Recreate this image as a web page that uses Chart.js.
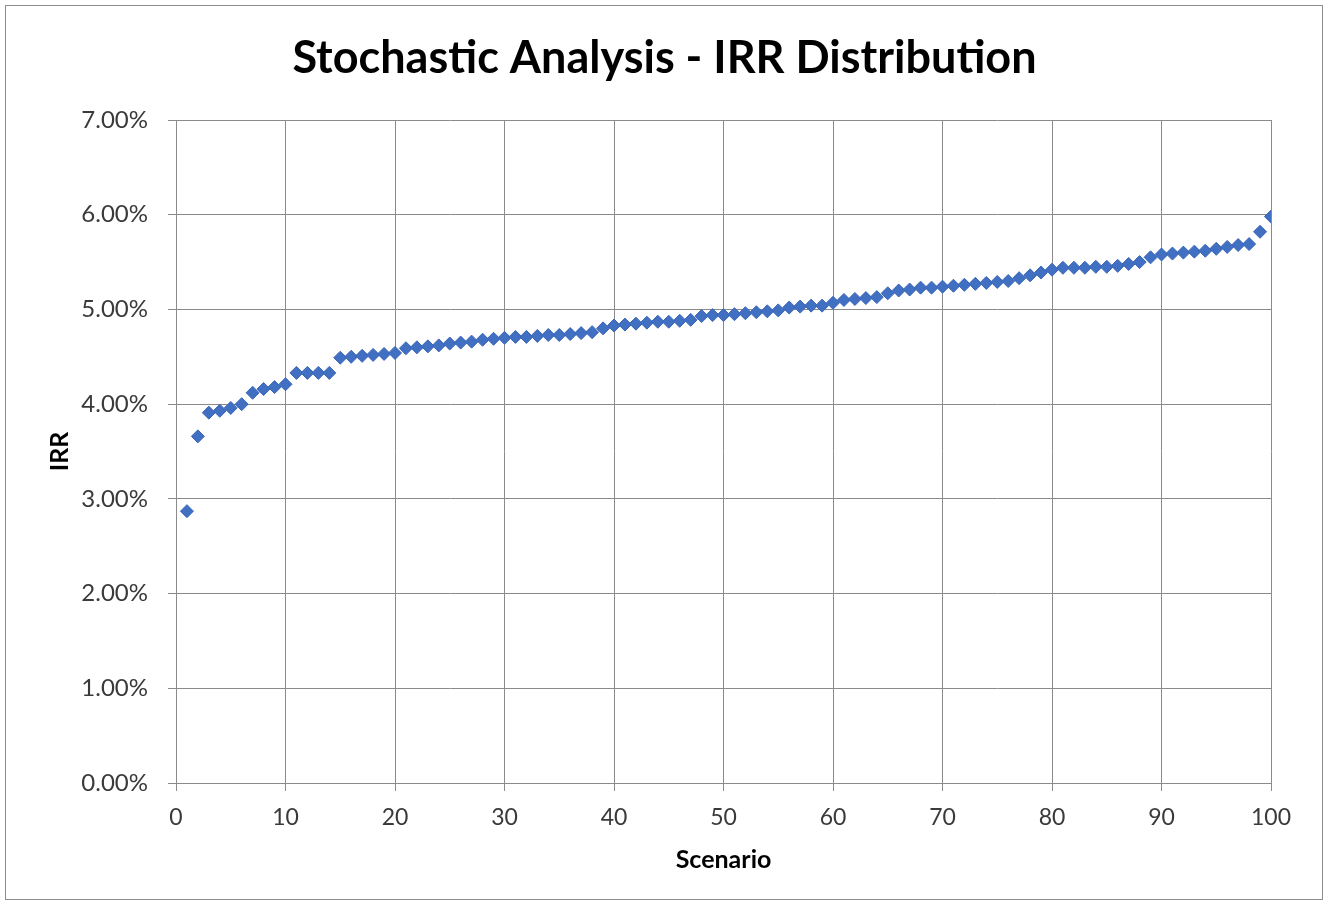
<!DOCTYPE html>
<html>
<head>
<meta charset="utf-8">
<script src="https://cdn.jsdelivr.net/npm/chart.js@4/dist/chart.umd.min.js"></script>
<style>
html,body{margin:0;padding:0;background:#fff;}
#wrap{width:1329px;height:905px;position:relative;}
</style>
</head>
<body>
<div id="wrap"><canvas id="c" width="1329" height="905"></canvas></div>
<script>
const chartTitle = "Stochastic Analysis - IRR Distribution";
const xAxisTitle = "Scenario";
const yAxisTitle = "IRR";
const scenarios = Array.from({length: 100}, (_, i) => i + 1);
const irrPercent = [
  2.87, 3.66, 3.91, 3.93, 3.96, 4.00, 4.12, 4.16, 4.18, 4.21,
  4.33, 4.33, 4.33, 4.33, 4.49, 4.50, 4.51, 4.52, 4.53, 4.54,
  4.59, 4.60, 4.61, 4.62, 4.64, 4.65, 4.66, 4.68, 4.69, 4.70,
  4.71, 4.71, 4.72, 4.73, 4.73, 4.74, 4.75, 4.76, 4.80, 4.83,
  4.84, 4.85, 4.86, 4.87, 4.87, 4.88, 4.89, 4.93, 4.94, 4.94,
  4.95, 4.96, 4.97, 4.98, 4.99, 5.02, 5.03, 5.04, 5.04, 5.07,
  5.10, 5.11, 5.12, 5.13, 5.17, 5.20, 5.21, 5.23, 5.23, 5.24,
  5.25, 5.26, 5.27, 5.28, 5.29, 5.30, 5.33, 5.36, 5.39, 5.42,
  5.44, 5.44, 5.44, 5.45, 5.45, 5.46, 5.48, 5.50, 5.55, 5.58,
  5.59, 5.60, 5.61, 5.62, 5.64, 5.66, 5.68, 5.69, 5.82, 5.98
];

const points = scenarios.map((s, i) => ({x: s, y: irrPercent[i]}));

const borderPlugin = {
  id: 'outerBorder',
  beforeDraw(chart) {
    const ctx = chart.ctx;
    ctx.save();
    ctx.fillStyle = '#ffffff';
    ctx.fillRect(0, 0, chart.width, chart.height);
    ctx.strokeStyle = '#8c8c8c';
    ctx.lineWidth = 1;
    ctx.strokeRect(5.5, 5.5, 1317, 894);
    ctx.restore();
  }
};

const FONT = "Lato, 'Open Sans', sans-serif";

new Chart(document.getElementById('c'), {
  type: 'scatter',
  data: {
    datasets: [{
      label: yAxisTitle,
      data: points,
      xAxisID: 'x',
      yAxisID: 'y',
      pointStyle: 'rectRot',
      pointRadius: 6.5,
      pointHoverRadius: 6.5,
      backgroundColor: '#4170c2',
      borderColor: '#3a66b8',
      borderWidth: 1,
      showLine: false
    }]
  },
  options: {
    responsive: false,
    animation: false,
    devicePixelRatio: 1,
    layout: {padding: 0},
    plugins: {
      legend: {display: false},
      tooltip: {enabled: false},
      title: {
        display: true,
        text: chartTitle,
        color: '#000',
        font: {family: FONT, size: 45, weight: 'bold', lineHeight: 1.2},
        padding: {top: 31, bottom: 35}
      }
    },
    scales: {
      x: {
        type: 'linear',
        min: 0, max: 100,
        afterFit(scale) { scale.height = 122; },
        ticks: {stepSize: 10, color: '#3a3a3a', font: {family: FONT, size: 23}, padding: 13, maxRotation: 0},
        grid: {color: '#8a8a8a', lineWidth: 1, tickLength: 8, drawTicks: true},
        border: {color: '#8a8a8a'},
        title: {display: true, text: xAxisTitle, color: '#000', font: {family: FONT, size: 25, weight: 'bold', lineHeight: 1.2}, padding: {top: 4, bottom: 30}}
      },
      y: {
        type: 'linear',
        position: 'left',
        min: 0, max: 7,
        afterFit(scale) { scale.width = 176; },
        ticks: {stepSize: 1, color: '#3a3a3a', font: {family: FONT, size: 24}, padding: 20,
          callback: v => v.toFixed(2) + '%'},
        grid: {color: '#8a8a8a', lineWidth: 1, tickLength: 8},
        border: {color: '#8a8a8a'},
        title: {display: true, text: yAxisTitle, color: '#000', font: {family: FONT, size: 25, weight: 'bold', lineHeight: 1.2}, padding: {top: 45, bottom: 0}}
      },
      yRightSpace: {
        type: 'linear',
        position: 'right',
        display: true,
        afterFit(scale) { scale.width = 58; },
        ticks: {display: false},
        grid: {display: false, drawTicks: false},
        border: {display: false},
        title: {display: false}
      }
    }
  },
  plugins: [borderPlugin]
});
</script>
</body>
</html>
